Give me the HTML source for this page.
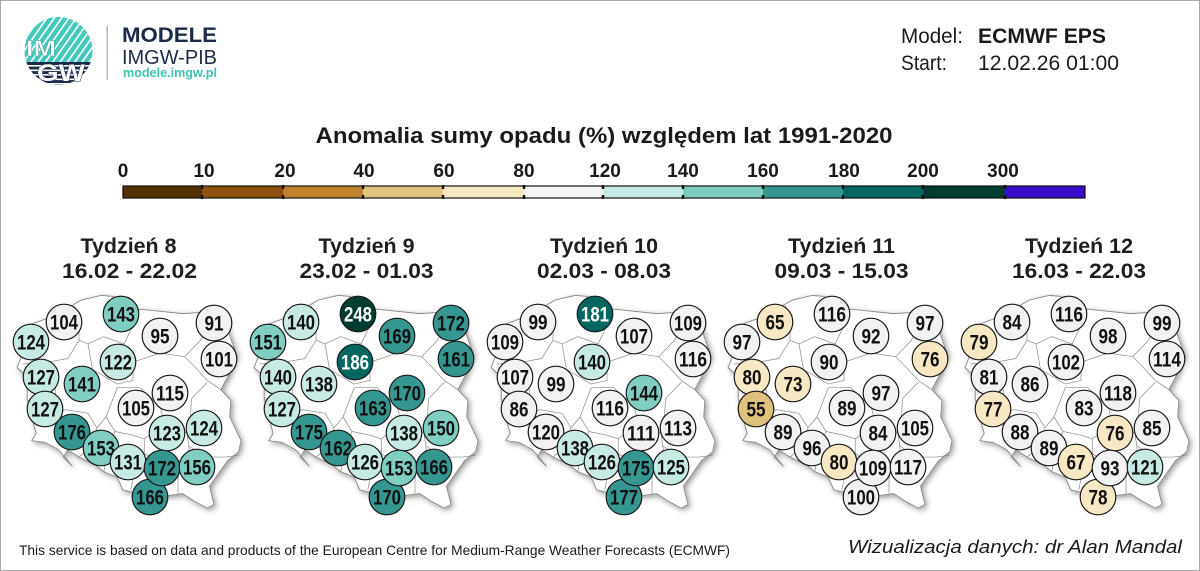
<!DOCTYPE html>
<html><head><meta charset="utf-8">
<style>
html,body{margin:0;padding:0;background:#fff;}
svg{display:block;}
.n{font-family:"Liberation Sans Narrow","Liberation Sans",sans-serif;font-weight:bold;font-size:21px;text-anchor:middle;fill:#111;}
.nw{fill:#fff;}
circle.w{fill:#f2f2f2;}
circle.t1{fill:#c7eae5;}
circle.t2{fill:#80cdc1;}
circle.t3{fill:#35978f;}
circle.t4{fill:#01665e;}
circle.t5{fill:#003c30;}
circle.b1{fill:#f6e8c3;}
circle.b2{fill:#dfc27d;}
.cc circle{stroke:#1a1a1a;stroke-width:1.2;}
.hd{font-family:"Liberation Sans",sans-serif;fill:#1a1a1a;}
.wk{font-family:"Liberation Sans",sans-serif;font-weight:bold;font-size:21px;text-anchor:middle;fill:#1e1e1e;}
.cb{font-family:"Liberation Sans",sans-serif;font-weight:bold;font-size:19px;text-anchor:middle;fill:#1a1a1a;}
</style></head>
<body>
<svg width="1200" height="571" viewBox="0 0 1200 571" xmlns="http://www.w3.org/2000/svg">
<defs>
  <clipPath id="lc"><circle cx="58.5" cy="51" r="34"/></clipPath>
  <pattern id="dg" width="6" height="6" patternUnits="userSpaceOnUse" patternTransform="rotate(35)">
    <rect width="6" height="6" fill="#45c9ba"/><rect width="1.6" height="6" fill="#ffffff"/>
  </pattern>
  <filter id="sh" x="-10%" y="-10%" width="125%" height="125%">
    <feDropShadow dx="2" dy="2" stdDeviation="3" flood-color="#000" flood-opacity="0.4"/>
  </filter>
  <g id="pl">
    <g filter="url(#sh)">
      <g transform="matrix(22.5,0,0,-36.5,-301.25,2296.66)">
        <path fill="#ffffff" stroke="#888" stroke-width="0.9" vector-effect="non-scaling-stroke" stroke-linejoin="round"
          d="M14.2,53.9 L14.6,54.0 L15.5,54.2 L16.3,54.45 L17.0,54.7 L17.9,54.83 L18.4,54.8 L18.8,54.65 L18.55,54.5 L18.9,54.35 L19.6,54.45 L20.4,54.4 L21.5,54.33 L22.8,54.38 L23.5,54.15 L23.5,53.9 L23.9,53.2 L23.6,52.7 L23.2,52.25 L23.65,51.95 L23.6,51.5 L24.1,50.85 L24.0,50.55 L23.5,50.3 L22.7,49.6 L22.9,49.1 L22.6,49.0 L22.0,49.2 L21.5,49.4 L20.9,49.35 L20.4,49.4 L19.9,49.2 L19.6,49.4 L19.2,49.45 L18.85,49.5 L18.6,49.85 L18.0,50.0 L17.6,50.2 L16.9,50.4 L16.4,50.6 L16.2,50.4 L16.6,50.15 L16.0,50.6 L15.4,50.8 L14.8,50.85 L15.0,51.05 L14.75,51.6 L14.6,52.0 L14.6,52.6 L14.15,52.85 L14.4,53.25 Z"/>
      </g>
    </g>
    <g transform="matrix(22.5,0,0,-36.5,-301.25,2296.66)" fill="none" stroke="#8a8a8a" stroke-width="0.7" vector-effect="non-scaling-stroke">
      <polyline vector-effect="non-scaling-stroke" points="16.7,54.55 16.9,54.0 16.9,53.6"/>
      <polyline vector-effect="non-scaling-stroke" points="14.4,52.95 15.5,53.0 16.4,53.1 16.9,53.6 17.3,53.5"/>
      <polyline vector-effect="non-scaling-stroke" points="17.3,53.5 18.0,53.7 18.9,53.5 19.3,54.0 19.4,54.4"/>
      <polyline vector-effect="non-scaling-stroke" points="15.5,53.0 15.8,52.5 15.9,51.9 15.5,51.4 14.95,51.45"/>
      <polyline vector-effect="non-scaling-stroke" points="15.5,51.4 16.3,51.7 17.3,51.6 17.7,51.2 17.3,50.6 16.9,50.4"/>
      <polyline vector-effect="non-scaling-stroke" points="17.7,51.2 18.1,51.5 18.5,51.1"/>
      <polyline vector-effect="non-scaling-stroke" points="18.5,51.1 18.2,50.6 18.0,50.0"/>
      <polyline vector-effect="non-scaling-stroke" points="17.3,53.5 17.5,52.8 18.6,52.4 19.3,52.5 19.3,53.0 18.9,53.5"/>
      <polyline vector-effect="non-scaling-stroke" points="18.1,51.5 18.6,52.3"/>
      <polyline vector-effect="non-scaling-stroke" points="19.3,53.0 20.5,53.25 21.6,53.15 22.3,53.6 22.6,54.0 22.8,54.36"/>
      <polyline vector-effect="non-scaling-stroke" points="21.6,53.15 22.0,52.9 22.6,52.5 23.2,52.25"/>
      <polyline vector-effect="non-scaling-stroke" points="22.6,52.45 21.9,52.0 21.85,51.45 21.7,51.05"/>
      <polyline vector-effect="non-scaling-stroke" points="21.7,51.05 21.3,51.2 20.7,51.3 20.5,51.8 19.6,52.3 18.6,52.3"/>
      <polyline vector-effect="non-scaling-stroke" points="20.7,51.3 19.8,50.9 19.3,51.0 18.5,51.1"/>
      <polyline vector-effect="non-scaling-stroke" points="21.8,50.7 22.5,50.4 23.4,50.4 24.0,50.45"/>
      <polyline vector-effect="non-scaling-stroke" points="21.7,51.05 21.8,50.6 21.4,50.3"/>
      <polyline vector-effect="non-scaling-stroke" points="21.4,50.3 20.5,50.2 19.8,50.5 19.8,50.9"/>
      <polyline vector-effect="non-scaling-stroke" points="19.8,50.5 19.4,50.1 19.2,49.5"/>
      <polyline vector-effect="non-scaling-stroke" points="21.4,50.3 21.3,49.8 21.3,49.4"/>
    </g>
  </g>
</defs>

<rect x="0.5" y="0.5" width="1199" height="570" fill="#fff" stroke="#a9a9a9" stroke-width="1"/>

<!-- Logo -->
<g clip-path="url(#lc)">
  <rect x="24" y="16" width="70" height="47" fill="url(#dg)"/>
  <rect x="24" y="62" width="70" height="26" fill="#1d2b4a"/>
  <rect x="24" y="65" width="70" height="1.6" fill="#fff"/>
  <rect x="24" y="69.5" width="70" height="1.6" fill="#fff"/>
  <rect x="24" y="74" width="70" height="1.6" fill="#fff"/>
  <rect x="24" y="78.5" width="70" height="1.6" fill="#fff"/>
  <rect x="24" y="83" width="70" height="1.6" fill="#fff"/>
</g>
<text x="26" y="56" font-family="Liberation Sans,sans-serif" font-weight="bold" font-size="22" fill="#fff" stroke="#2a9a8e" stroke-width="0.4" textLength="30" lengthAdjust="spacingAndGlyphs">IM</text>
<text x="37" y="81" font-family="Liberation Sans,sans-serif" font-weight="bold" font-size="24" fill="#fff" stroke="#1d2b4a" stroke-width="0.9" paint-order="stroke" textLength="48" lengthAdjust="spacingAndGlyphs">GW</text>
<rect x="106.5" y="26" width="1.5" height="54" fill="#b8b8b8"/>
<text x="122" y="42" font-family="Liberation Sans,sans-serif" font-weight="bold" font-size="21" fill="#1d2a47" textLength="95" lengthAdjust="spacingAndGlyphs">MODELE</text>
<text x="122" y="64" font-family="Liberation Sans,sans-serif" font-size="20" fill="#1d2a47" textLength="95" lengthAdjust="spacingAndGlyphs">IMGW-PIB</text>
<text x="123" y="77" font-family="Liberation Sans,sans-serif" font-weight="bold" font-size="12.5" fill="#3cc3b3" textLength="94" lengthAdjust="spacingAndGlyphs">modele.imgw.pl</text>

<!-- Header right -->
<text class="hd" x="901" y="43" font-size="21" textLength="62" lengthAdjust="spacingAndGlyphs">Model:</text>
<text class="hd" x="978" y="43" font-size="21" font-weight="bold" textLength="128" lengthAdjust="spacingAndGlyphs">ECMWF EPS</text>
<text class="hd" x="901" y="70" font-size="21" textLength="46" lengthAdjust="spacingAndGlyphs">Start:</text>
<text class="hd" x="978" y="70" font-size="21" textLength="141" lengthAdjust="spacingAndGlyphs">12.02.26 01:00</text>

<!-- Title -->
<text class="hd" x="604" y="143" font-size="22" font-weight="bold" text-anchor="middle" textLength="577" lengthAdjust="spacingAndGlyphs">Anomalia sumy opadu (%) względem lat 1991-2020</text>

<!-- Colorbar -->
<g>
  <rect x="123" y="186" width="79" height="12" fill="#543005"/>
  <rect x="202" y="186" width="81" height="12" fill="#8c510a"/>
  <rect x="283" y="186" width="80" height="12" fill="#bf812d"/>
  <rect x="363" y="186" width="80" height="12" fill="#dfc27d"/>
  <rect x="443" y="186" width="81" height="12" fill="#f6e8c3"/>
  <rect x="524" y="186" width="79" height="12" fill="#f5f5f5"/>
  <rect x="603" y="186" width="80" height="12" fill="#c7eae5"/>
  <rect x="683" y="186" width="80" height="12" fill="#80cdc1"/>
  <rect x="763" y="186" width="80" height="12" fill="#35978f"/>
  <rect x="843" y="186" width="80" height="12" fill="#01665e"/>
  <rect x="923" y="186" width="82" height="12" fill="#003c30"/>
  <rect x="1005" y="186" width="80" height="12" fill="#3a0cc8"/>
  <rect x="123" y="186" width="962" height="12" fill="none" stroke="#111" stroke-width="1.2"/>
  <g stroke="#111" stroke-width="2.5">
    <line x1="202" y1="185" x2="202" y2="189"/><line x1="202" y1="195" x2="202" y2="199"/>
    <line x1="283" y1="185" x2="283" y2="189"/><line x1="283" y1="195" x2="283" y2="199"/>
    <line x1="363" y1="185" x2="363" y2="189"/><line x1="363" y1="195" x2="363" y2="199"/>
    <line x1="443" y1="185" x2="443" y2="189"/><line x1="443" y1="195" x2="443" y2="199"/>
    <line x1="524" y1="185" x2="524" y2="189"/><line x1="524" y1="195" x2="524" y2="199"/>
    <line x1="603" y1="185" x2="603" y2="189"/><line x1="603" y1="195" x2="603" y2="199"/>
    <line x1="683" y1="185" x2="683" y2="189"/><line x1="683" y1="195" x2="683" y2="199"/>
    <line x1="763" y1="185" x2="763" y2="189"/><line x1="763" y1="195" x2="763" y2="199"/>
    <line x1="843" y1="185" x2="843" y2="189"/><line x1="843" y1="195" x2="843" y2="199"/>
    <line x1="923" y1="185" x2="923" y2="189"/><line x1="923" y1="195" x2="923" y2="199"/>
    <line x1="1005" y1="185" x2="1005" y2="189"/><line x1="1005" y1="195" x2="1005" y2="199"/>
  </g>
  <text class="cb" x="123" y="177">0</text>
  <text class="cb" x="204" y="177">10</text>
  <text class="cb" x="285" y="177">20</text>
  <text class="cb" x="364" y="177">40</text>
  <text class="cb" x="444" y="177">60</text>
  <text class="cb" x="524" y="177">80</text>
  <text class="cb" x="605" y="177">120</text>
  <text class="cb" x="683" y="177">140</text>
  <text class="cb" x="763" y="177">160</text>
  <text class="cb" x="844" y="177">180</text>
  <text class="cb" x="923" y="177">200</text>
  <text class="cb" x="1003" y="177">300</text>
</g>

<!-- Map 1 -->
<g transform="translate(0,0)">
  <text class="wk" x="128.5" y="253" textLength="96" lengthAdjust="spacingAndGlyphs">Tydzień 8</text>
  <text class="wk" x="129.5" y="278" textLength="135" lengthAdjust="spacingAndGlyphs">16.02 - 22.02</text>
  <use href="#pl"/>
  <g class="cc">
    <circle class="w" cx="64" cy="322" r="17.8"/><text class="n" x="64" y="329.5" textLength="28" lengthAdjust="spacingAndGlyphs">104</text>
    <circle class="t2" cx="121" cy="314" r="17.8"/><text class="n" x="121" y="321.5" textLength="28" lengthAdjust="spacingAndGlyphs">143</text>
    <circle class="w" cx="160" cy="336" r="17.8"/><text class="n" x="160" y="343.5" textLength="19" lengthAdjust="spacingAndGlyphs">95</text>
    <circle class="w" cx="214" cy="323" r="17.8"/><text class="n" x="214" y="330.5" textLength="19" lengthAdjust="spacingAndGlyphs">91</text>
    <circle class="t1" cx="31" cy="342" r="17.8"/><text class="n" x="31" y="349.5" textLength="28" lengthAdjust="spacingAndGlyphs">124</text>
    <circle class="w" cx="219" cy="359" r="17.8"/><text class="n" x="219" y="366.5" textLength="28" lengthAdjust="spacingAndGlyphs">101</text>
    <circle class="t1" cx="118" cy="362" r="17.8"/><text class="n" x="118" y="369.5" textLength="28" lengthAdjust="spacingAndGlyphs">122</text>
    <circle class="t1" cx="41" cy="377" r="17.8"/><text class="n" x="41" y="384.5" textLength="28" lengthAdjust="spacingAndGlyphs">127</text>
    <circle class="t2" cx="82" cy="384" r="17.8"/><text class="n" x="82" y="391.5" textLength="28" lengthAdjust="spacingAndGlyphs">141</text>
    <circle class="w" cx="170" cy="393" r="17.8"/><text class="n" x="170" y="400.5" textLength="28" lengthAdjust="spacingAndGlyphs">115</text>
    <circle class="t1" cx="45" cy="409" r="17.8"/><text class="n" x="45" y="416.5" textLength="28" lengthAdjust="spacingAndGlyphs">127</text>
    <circle class="w" cx="136" cy="408" r="17.8"/><text class="n" x="136" y="415.5" textLength="28" lengthAdjust="spacingAndGlyphs">105</text>
    <circle class="t1" cx="204" cy="428" r="17.8"/><text class="n" x="204" y="435.5" textLength="28" lengthAdjust="spacingAndGlyphs">124</text>
    <circle class="t1" cx="167" cy="433" r="17.8"/><text class="n" x="167" y="440.5" textLength="28" lengthAdjust="spacingAndGlyphs">123</text>
    <circle class="t3" cx="72" cy="432" r="17.8"/><text class="n" x="72" y="439.5" textLength="28" lengthAdjust="spacingAndGlyphs">176</text>
    <circle class="t2" cx="101" cy="448" r="17.8"/><text class="n" x="101" y="455.5" textLength="28" lengthAdjust="spacingAndGlyphs">153</text>
    <circle class="t1" cx="128" cy="462" r="17.8"/><text class="n" x="128" y="469.5" textLength="28" lengthAdjust="spacingAndGlyphs">131</text>
    <circle class="t3" cx="150" cy="497" r="17.8"/><text class="n" x="150" y="504.5" textLength="28" lengthAdjust="spacingAndGlyphs">166</text>
    <circle class="t3" cx="162" cy="468" r="17.8"/><text class="n" x="162" y="475.5" textLength="28" lengthAdjust="spacingAndGlyphs">172</text>
    <circle class="t2" cx="197" cy="467" r="17.8"/><text class="n" x="197" y="474.5" textLength="28" lengthAdjust="spacingAndGlyphs">156</text>
  </g>
</g>

<!-- Map 2 -->
<g transform="translate(237,0)">
  <text class="wk" x="129.5" y="253" textLength="96" lengthAdjust="spacingAndGlyphs">Tydzień 9</text>
  <text class="wk" x="129.5" y="278" textLength="134" lengthAdjust="spacingAndGlyphs">23.02 - 01.03</text>
  <use href="#pl"/>
  <g class="cc">
    <circle class="t1" cx="64" cy="322" r="17.8"/><text class="n" x="64" y="329.5" textLength="28" lengthAdjust="spacingAndGlyphs">140</text>
    <circle class="t5" cx="121" cy="314" r="17.8"/><text class="n nw" x="121" y="321.5" textLength="28" lengthAdjust="spacingAndGlyphs">248</text>
    <circle class="t3" cx="160" cy="336" r="17.8"/><text class="n" x="160" y="343.5" textLength="28" lengthAdjust="spacingAndGlyphs">169</text>
    <circle class="t3" cx="214" cy="323" r="17.8"/><text class="n" x="214" y="330.5" textLength="28" lengthAdjust="spacingAndGlyphs">172</text>
    <circle class="t2" cx="31" cy="342" r="17.8"/><text class="n" x="31" y="349.5" textLength="28" lengthAdjust="spacingAndGlyphs">151</text>
    <circle class="t3" cx="219" cy="359" r="17.8"/><text class="n" x="219" y="366.5" textLength="28" lengthAdjust="spacingAndGlyphs">161</text>
    <circle class="t4" cx="118" cy="362" r="17.8"/><text class="n nw" x="118" y="369.5" textLength="28" lengthAdjust="spacingAndGlyphs">186</text>
    <circle class="t1" cx="41" cy="377" r="17.8"/><text class="n" x="41" y="384.5" textLength="28" lengthAdjust="spacingAndGlyphs">140</text>
    <circle class="t1" cx="82" cy="384" r="17.8"/><text class="n" x="82" y="391.5" textLength="28" lengthAdjust="spacingAndGlyphs">138</text>
    <circle class="t3" cx="170" cy="393" r="17.8"/><text class="n" x="170" y="400.5" textLength="28" lengthAdjust="spacingAndGlyphs">170</text>
    <circle class="t1" cx="45" cy="409" r="17.8"/><text class="n" x="45" y="416.5" textLength="28" lengthAdjust="spacingAndGlyphs">127</text>
    <circle class="t3" cx="136" cy="408" r="17.8"/><text class="n" x="136" y="415.5" textLength="28" lengthAdjust="spacingAndGlyphs">163</text>
    <circle class="t2" cx="204" cy="428" r="17.8"/><text class="n" x="204" y="435.5" textLength="28" lengthAdjust="spacingAndGlyphs">150</text>
    <circle class="t1" cx="167" cy="433" r="17.8"/><text class="n" x="167" y="440.5" textLength="28" lengthAdjust="spacingAndGlyphs">138</text>
    <circle class="t3" cx="72" cy="432" r="17.8"/><text class="n" x="72" y="439.5" textLength="28" lengthAdjust="spacingAndGlyphs">175</text>
    <circle class="t3" cx="101" cy="448" r="17.8"/><text class="n" x="101" y="455.5" textLength="28" lengthAdjust="spacingAndGlyphs">162</text>
    <circle class="t1" cx="128" cy="462" r="17.8"/><text class="n" x="128" y="469.5" textLength="28" lengthAdjust="spacingAndGlyphs">126</text>
    <circle class="t3" cx="150" cy="497" r="17.8"/><text class="n" x="150" y="504.5" textLength="28" lengthAdjust="spacingAndGlyphs">170</text>
    <circle class="t2" cx="162" cy="468" r="17.8"/><text class="n" x="162" y="475.5" textLength="28" lengthAdjust="spacingAndGlyphs">153</text>
    <circle class="t3" cx="197" cy="467" r="17.8"/><text class="n" x="197" y="474.5" textLength="28" lengthAdjust="spacingAndGlyphs">166</text>
  </g>
</g>

<!-- Map 3 -->
<g transform="translate(474,0)">
  <text class="wk" x="130" y="253" textLength="108" lengthAdjust="spacingAndGlyphs">Tydzień 10</text>
  <text class="wk" x="130" y="278" textLength="134" lengthAdjust="spacingAndGlyphs">02.03 - 08.03</text>
  <use href="#pl"/>
  <g class="cc">
    <circle class="w" cx="64" cy="322" r="17.8"/><text class="n" x="64" y="329.5" textLength="19" lengthAdjust="spacingAndGlyphs">99</text>
    <circle class="t4" cx="121" cy="314" r="17.8"/><text class="n nw" x="121" y="321.5" textLength="28" lengthAdjust="spacingAndGlyphs">181</text>
    <circle class="w" cx="160" cy="336" r="17.8"/><text class="n" x="160" y="343.5" textLength="28" lengthAdjust="spacingAndGlyphs">107</text>
    <circle class="w" cx="214" cy="323" r="17.8"/><text class="n" x="214" y="330.5" textLength="28" lengthAdjust="spacingAndGlyphs">109</text>
    <circle class="w" cx="31" cy="342" r="17.8"/><text class="n" x="31" y="349.5" textLength="28" lengthAdjust="spacingAndGlyphs">109</text>
    <circle class="w" cx="219" cy="359" r="17.8"/><text class="n" x="219" y="366.5" textLength="28" lengthAdjust="spacingAndGlyphs">116</text>
    <circle class="t1" cx="118" cy="362" r="17.8"/><text class="n" x="118" y="369.5" textLength="28" lengthAdjust="spacingAndGlyphs">140</text>
    <circle class="w" cx="41" cy="377" r="17.8"/><text class="n" x="41" y="384.5" textLength="28" lengthAdjust="spacingAndGlyphs">107</text>
    <circle class="w" cx="82" cy="384" r="17.8"/><text class="n" x="82" y="391.5" textLength="19" lengthAdjust="spacingAndGlyphs">99</text>
    <circle class="t2" cx="170" cy="393" r="17.8"/><text class="n" x="170" y="400.5" textLength="28" lengthAdjust="spacingAndGlyphs">144</text>
    <circle class="w" cx="45" cy="409" r="17.8"/><text class="n" x="45" y="416.5" textLength="19" lengthAdjust="spacingAndGlyphs">86</text>
    <circle class="w" cx="136" cy="408" r="17.8"/><text class="n" x="136" y="415.5" textLength="28" lengthAdjust="spacingAndGlyphs">116</text>
    <circle class="w" cx="204" cy="428" r="17.8"/><text class="n" x="204" y="435.5" textLength="28" lengthAdjust="spacingAndGlyphs">113</text>
    <circle class="w" cx="167" cy="433" r="17.8"/><text class="n" x="167" y="440.5" textLength="28" lengthAdjust="spacingAndGlyphs">111</text>
    <circle class="w" cx="72" cy="432" r="17.8"/><text class="n" x="72" y="439.5" textLength="28" lengthAdjust="spacingAndGlyphs">120</text>
    <circle class="t1" cx="101" cy="448" r="17.8"/><text class="n" x="101" y="455.5" textLength="28" lengthAdjust="spacingAndGlyphs">138</text>
    <circle class="t1" cx="128" cy="462" r="17.8"/><text class="n" x="128" y="469.5" textLength="28" lengthAdjust="spacingAndGlyphs">126</text>
    <circle class="t3" cx="150" cy="497" r="17.8"/><text class="n" x="150" y="504.5" textLength="28" lengthAdjust="spacingAndGlyphs">177</text>
    <circle class="t3" cx="162" cy="468" r="17.8"/><text class="n" x="162" y="475.5" textLength="28" lengthAdjust="spacingAndGlyphs">175</text>
    <circle class="t1" cx="197" cy="467" r="17.8"/><text class="n" x="197" y="474.5" textLength="28" lengthAdjust="spacingAndGlyphs">125</text>
  </g>
</g>

<!-- Map 4 -->
<g transform="translate(711,0)">
  <text class="wk" x="130.5" y="253" textLength="107" lengthAdjust="spacingAndGlyphs">Tydzień 11</text>
  <text class="wk" x="130.5" y="278" textLength="134" lengthAdjust="spacingAndGlyphs">09.03 - 15.03</text>
  <use href="#pl"/>
  <g class="cc">
    <circle class="b1" cx="64" cy="322" r="17.8"/><text class="n" x="64" y="329.5" textLength="19" lengthAdjust="spacingAndGlyphs">65</text>
    <circle class="w" cx="121" cy="314" r="17.8"/><text class="n" x="121" y="321.5" textLength="28" lengthAdjust="spacingAndGlyphs">116</text>
    <circle class="w" cx="160" cy="336" r="17.8"/><text class="n" x="160" y="343.5" textLength="19" lengthAdjust="spacingAndGlyphs">92</text>
    <circle class="w" cx="214" cy="323" r="17.8"/><text class="n" x="214" y="330.5" textLength="19" lengthAdjust="spacingAndGlyphs">97</text>
    <circle class="w" cx="31" cy="342" r="17.8"/><text class="n" x="31" y="349.5" textLength="19" lengthAdjust="spacingAndGlyphs">97</text>
    <circle class="b1" cx="219" cy="359" r="17.8"/><text class="n" x="219" y="366.5" textLength="19" lengthAdjust="spacingAndGlyphs">76</text>
    <circle class="w" cx="118" cy="362" r="17.8"/><text class="n" x="118" y="369.5" textLength="19" lengthAdjust="spacingAndGlyphs">90</text>
    <circle class="b1" cx="41" cy="377" r="17.8"/><text class="n" x="41" y="384.5" textLength="19" lengthAdjust="spacingAndGlyphs">80</text>
    <circle class="b1" cx="82" cy="384" r="17.8"/><text class="n" x="82" y="391.5" textLength="19" lengthAdjust="spacingAndGlyphs">73</text>
    <circle class="w" cx="170" cy="393" r="17.8"/><text class="n" x="170" y="400.5" textLength="19" lengthAdjust="spacingAndGlyphs">97</text>
    <circle class="b2" cx="45" cy="409" r="17.8"/><text class="n" x="45" y="416.5" textLength="19" lengthAdjust="spacingAndGlyphs">55</text>
    <circle class="w" cx="136" cy="408" r="17.8"/><text class="n" x="136" y="415.5" textLength="19" lengthAdjust="spacingAndGlyphs">89</text>
    <circle class="w" cx="204" cy="428" r="17.8"/><text class="n" x="204" y="435.5" textLength="28" lengthAdjust="spacingAndGlyphs">105</text>
    <circle class="w" cx="167" cy="433" r="17.8"/><text class="n" x="167" y="440.5" textLength="19" lengthAdjust="spacingAndGlyphs">84</text>
    <circle class="w" cx="72" cy="432" r="17.8"/><text class="n" x="72" y="439.5" textLength="19" lengthAdjust="spacingAndGlyphs">89</text>
    <circle class="w" cx="101" cy="448" r="17.8"/><text class="n" x="101" y="455.5" textLength="19" lengthAdjust="spacingAndGlyphs">96</text>
    <circle class="b1" cx="128" cy="462" r="17.8"/><text class="n" x="128" y="469.5" textLength="19" lengthAdjust="spacingAndGlyphs">80</text>
    <circle class="w" cx="150" cy="497" r="17.8"/><text class="n" x="150" y="504.5" textLength="28" lengthAdjust="spacingAndGlyphs">100</text>
    <circle class="w" cx="162" cy="468" r="17.8"/><text class="n" x="162" y="475.5" textLength="28" lengthAdjust="spacingAndGlyphs">109</text>
    <circle class="w" cx="197" cy="467" r="17.8"/><text class="n" x="197" y="474.5" textLength="28" lengthAdjust="spacingAndGlyphs">117</text>
  </g>
</g>

<!-- Map 5 -->
<g transform="translate(948,0)">
  <text class="wk" x="131" y="253" textLength="108" lengthAdjust="spacingAndGlyphs">Tydzień 12</text>
  <text class="wk" x="131" y="278" textLength="134" lengthAdjust="spacingAndGlyphs">16.03 - 22.03</text>
  <use href="#pl"/>
  <g class="cc">
    <circle class="w" cx="64" cy="322" r="17.8"/><text class="n" x="64" y="329.5" textLength="19" lengthAdjust="spacingAndGlyphs">84</text>
    <circle class="w" cx="121" cy="314" r="17.8"/><text class="n" x="121" y="321.5" textLength="28" lengthAdjust="spacingAndGlyphs">116</text>
    <circle class="w" cx="160" cy="336" r="17.8"/><text class="n" x="160" y="343.5" textLength="19" lengthAdjust="spacingAndGlyphs">98</text>
    <circle class="w" cx="214" cy="323" r="17.8"/><text class="n" x="214" y="330.5" textLength="19" lengthAdjust="spacingAndGlyphs">99</text>
    <circle class="b1" cx="31" cy="342" r="17.8"/><text class="n" x="31" y="349.5" textLength="19" lengthAdjust="spacingAndGlyphs">79</text>
    <circle class="w" cx="219" cy="359" r="17.8"/><text class="n" x="219" y="366.5" textLength="28" lengthAdjust="spacingAndGlyphs">114</text>
    <circle class="w" cx="118" cy="362" r="17.8"/><text class="n" x="118" y="369.5" textLength="28" lengthAdjust="spacingAndGlyphs">102</text>
    <circle class="w" cx="41" cy="377" r="17.8"/><text class="n" x="41" y="384.5" textLength="19" lengthAdjust="spacingAndGlyphs">81</text>
    <circle class="w" cx="82" cy="384" r="17.8"/><text class="n" x="82" y="391.5" textLength="19" lengthAdjust="spacingAndGlyphs">86</text>
    <circle class="w" cx="170" cy="393" r="17.8"/><text class="n" x="170" y="400.5" textLength="28" lengthAdjust="spacingAndGlyphs">118</text>
    <circle class="b1" cx="45" cy="409" r="17.8"/><text class="n" x="45" y="416.5" textLength="19" lengthAdjust="spacingAndGlyphs">77</text>
    <circle class="w" cx="136" cy="408" r="17.8"/><text class="n" x="136" y="415.5" textLength="19" lengthAdjust="spacingAndGlyphs">83</text>
    <circle class="w" cx="204" cy="428" r="17.8"/><text class="n" x="204" y="435.5" textLength="19" lengthAdjust="spacingAndGlyphs">85</text>
    <circle class="b1" cx="167" cy="433" r="17.8"/><text class="n" x="167" y="440.5" textLength="19" lengthAdjust="spacingAndGlyphs">76</text>
    <circle class="w" cx="72" cy="432" r="17.8"/><text class="n" x="72" y="439.5" textLength="19" lengthAdjust="spacingAndGlyphs">88</text>
    <circle class="w" cx="101" cy="448" r="17.8"/><text class="n" x="101" y="455.5" textLength="19" lengthAdjust="spacingAndGlyphs">89</text>
    <circle class="b1" cx="128" cy="462" r="17.8"/><text class="n" x="128" y="469.5" textLength="19" lengthAdjust="spacingAndGlyphs">67</text>
    <circle class="b1" cx="150" cy="497" r="17.8"/><text class="n" x="150" y="504.5" textLength="19" lengthAdjust="spacingAndGlyphs">78</text>
    <circle class="w" cx="162" cy="468" r="17.8"/><text class="n" x="162" y="475.5" textLength="19" lengthAdjust="spacingAndGlyphs">93</text>
    <circle class="t1" cx="197" cy="467" r="17.8"/><text class="n" x="197" y="474.5" textLength="28" lengthAdjust="spacingAndGlyphs">121</text>
  </g>
</g>

<!-- Footer -->
<text class="hd" x="19" y="555" font-size="14" textLength="711" lengthAdjust="spacingAndGlyphs">This service is based on data and products of the European Centre for Medium-Range Weather Forecasts (ECMWF)</text>
<text class="hd" x="848" y="553" font-size="18" font-style="italic" textLength="334" lengthAdjust="spacingAndGlyphs">Wizualizacja danych: dr Alan Mandal</text>
</svg>
</body></html>
